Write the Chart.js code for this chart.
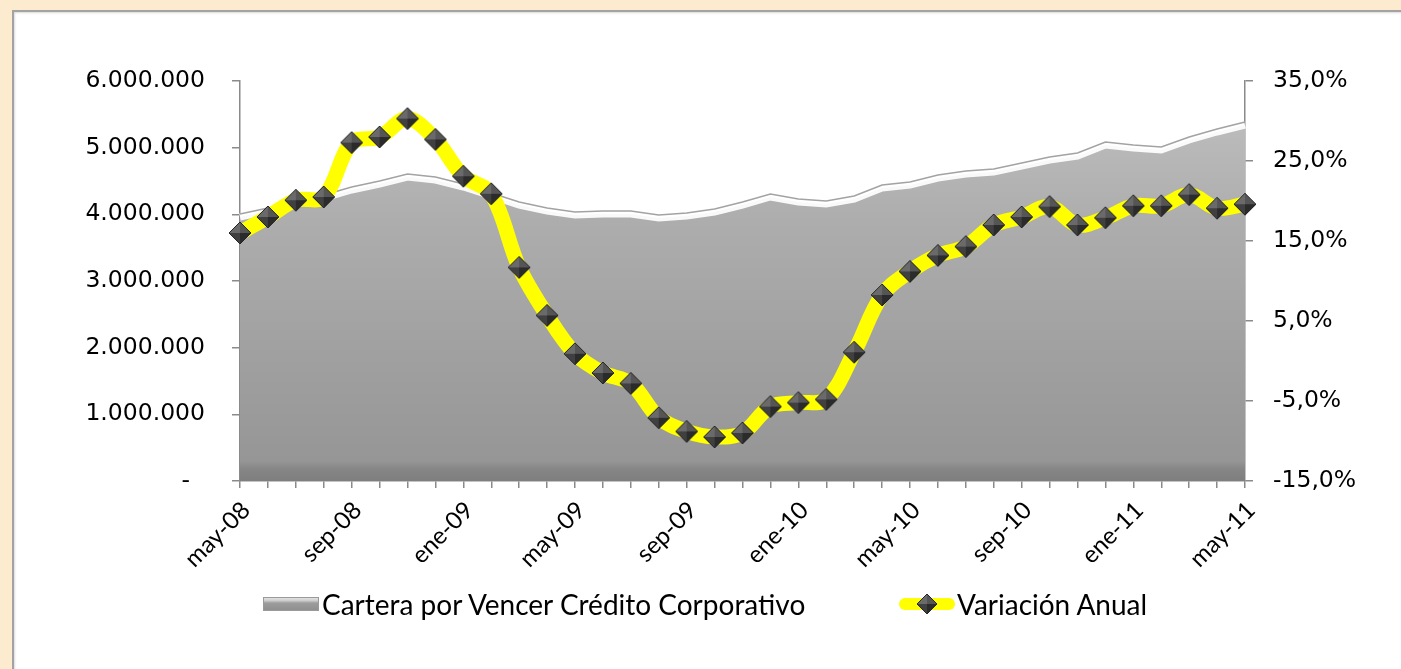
<!DOCTYPE html>
<html>
<head>
<meta charset="utf-8">
<script src="https://cdn.jsdelivr.net/npm/chart.js@4.4.1/dist/chart.umd.min.js"></script>
<style>
  html, body { margin: 0; padding: 0; background: #fdebd0; overflow: hidden; }
  #panel {
    position: absolute; left: 12px; top: 10px; width: 1420px; height: 700px;
    background: #ffffff; border: 2px solid #a3a3a3; box-shadow: inset 1px 1px 2px rgba(0,0,0,0.15);
  }
  #chart { position: absolute; left: 0; top: 0; }
  #legend { position: absolute; left: 0; top: 588px; width: 1401px; height: 32px; }
  #legend .item { position: absolute; top: 0; height: 32px; display: flex; align-items: center;
    font-family: Lato, sans-serif; font-size: 28px; color: #000; white-space: nowrap; }
  #legend .item canvas { margin-right: 2px; }
</style>
</head>
<body>
<div id="panel"></div>
<canvas id="chart" width="1401" height="669"></canvas>
<div id="legend"></div>
<script>
"use strict";

var categories = ['may-08','jun-08','jul-08','ago-08','sep-08','oct-08','nov-08','dic-08',
  'ene-09','feb-09','mar-09','abr-09','may-09','jun-09','jul-09','ago-09','sep-09','oct-09','nov-09','dic-09',
  'ene-10','feb-10','mar-10','abr-10','may-10','jun-10','jul-10','ago-10','sep-10','oct-10','nov-10','dic-10',
  'ene-11','feb-11','mar-11','abr-11','may-11'];

// Cartera por Vencer Crédito Corporativo
var cartera = [3960000, 4050000, 4155000, 4245000, 4365000, 4455000, 4560000, 4515000,
  4410000, 4275000, 4140000, 4050000, 3990000, 4005000, 4005000, 3945000, 3975000, 4035000, 4140000, 4260000,
  4185000, 4155000, 4230000, 4395000, 4440000, 4545000, 4605000, 4635000, 4725000, 4815000, 4875000, 5040000,
  4995000, 4965000, 5115000, 5235000, 5340000];

// Variación Anual (%)
var variacion = [16.0, 18.0, 20.1, 20.5, 27.3, 28.0, 30.3, 27.7,
  23.1, 20.9, 11.7, 5.7, 0.9, -1.5, -2.8, -7.1, -8.8, -9.5, -9.0, -5.7,
  -5.2, -4.8, 1.1, 8.25, 11.2, 13.2, 14.3, 17.0, 18.0, 19.3, 17.0, 17.9,
  19.4, 19.4, 20.8, 19.1, 19.6];

var seriesNames = ['Cartera por Vencer Crédito Corporativo', 'Variación Anual'];
var leftTicks = { min: 0, max: 6000000, step: 1000000 };
var rightTicks = { min: -15, max: 35, step: 10 };

function fmtMiles(v) {
  if (v === 0) return '-  ';
  return String(v).replace(/\B(?=(\d{3})+(?!\d))/g, '.');
}
function fmtPct(v) {
  return v.toFixed(1).replace('.', ',') + '%';
}

// pyramid shaded diamond marker
function diamond(r) {
  var s = Math.ceil(r * 2 + 4);
  var c = document.createElement('canvas');
  c.width = s; c.height = s;
  var g = c.getContext('2d');
  var m = s / 2;
  function tri(ax, ay, bx, by, col) {
    g.beginPath(); g.moveTo(m, m); g.lineTo(ax, ay); g.lineTo(bx, by); g.closePath();
    g.fillStyle = col; g.fill();
  }
  tri(m, m - r, m - r, m, '#6a6a6a');
  tri(m, m - r, m + r, m, '#555555');
  tri(m + r, m, m, m + r, '#2b2b2b');
  tri(m - r, m, m, m + r, '#404040');
  g.beginPath(); g.moveTo(m, m - r); g.lineTo(m + r, m); g.lineTo(m, m + r); g.lineTo(m - r, m); g.closePath();
  g.strokeStyle = '#262626'; g.lineWidth = 1; g.stroke();
  return c;
}

function legendArea() {
  var c = document.createElement('canvas');
  c.width = 58; c.height = 18;
  var g = c.getContext('2d');
  var gr = g.createLinearGradient(0, 0, 0, 18);
  gr.addColorStop(0, '#f4f4f4'); gr.addColorStop(0.3, '#d0d0d0'); gr.addColorStop(0.45, '#9c9c9c'); gr.addColorStop(1, '#8a8a8a');
  g.fillStyle = gr; g.fillRect(1, 2, 56, 14);
  g.strokeStyle = '#9a9a9a'; g.lineWidth = 1; g.strokeRect(1.5, 2.5, 55, 13);
  return c;
}

function legendLine() {
  var c = document.createElement('canvas');
  c.width = 56; c.height = 24;
  var g = c.getContext('2d');
  g.fillStyle = '#ffff00';
  g.beginPath(); g.moveTo(6, 6); g.lineTo(50, 6); g.arc(50, 12, 6, -Math.PI / 2, Math.PI / 2); g.lineTo(6, 18); g.arc(6, 12, 6, Math.PI / 2, Math.PI * 1.5); g.fill();
  g.drawImage(diamond(10), 28 - 12, 0);
  return c;
}

var marker = diamond(11);
var legendIcons = [legendArea(), legendLine()];
var legendLeft = [262, 899];

var areaOutline = {
  id: 'areaOutline',
  afterDatasetDraw: function (chart, args) {
    if (args.index !== 0) return;
    var pts = args.meta.data;
    var ctx = chart.ctx;
    ctx.save();
    ctx.beginPath();
    for (var i = 0; i < pts.length; i++) {
      if (i === 0) ctx.moveTo(pts[i].x, pts[i].y - 3);
      else ctx.lineTo(pts[i].x, pts[i].y - 3);
    }
    ctx.strokeStyle = '#a3a3a3';
    ctx.lineWidth = 1.6;
    ctx.stroke();
    ctx.restore();
  }
};

// legend as html, built from the datasets
var htmlLegend = {
  id: 'htmlLegend',
  afterUpdate: function (chart) {
    var box = document.getElementById('legend');
    box.innerHTML = '';
    chart.data.datasets.forEach(function (ds, i) {
      var item = document.createElement('div');
      item.className = 'item';
      item.style.left = legendLeft[i] + 'px';
      item.appendChild(legendIcons[i]);
      var t = document.createElement('span');
      t.textContent = ds.label;
      item.appendChild(t);
      box.appendChild(item);
    });
  }
};

var axisGray = '#8a8a8a';
var tickFont = { family: 'DejaVu Sans', size: 23.5 };

new Chart(document.getElementById('chart'), {
  type: 'line',
  data: {
    labels: categories,
    datasets: [{
      label: seriesNames[0],
      data: cartera,
      yAxisID: 'y',
      order: 2,
      fill: 'origin',
      tension: 0,
      pointRadius: 0,
      borderColor: 'rgba(255,255,255,0.92)',
      borderWidth: 7,
      backgroundColor: function (c) {
        var a = c.chart.chartArea;
        if (!a) return '#a8a8a8';
        var gr = c.chart.ctx.createLinearGradient(0, a.top, 0, a.bottom);
        gr.addColorStop(0, '#c2c2c2');
        gr.addColorStop(0.35, '#adadad');
        gr.addColorStop(0.95, '#969696');
        gr.addColorStop(0.97, '#868686');
        gr.addColorStop(1, '#7e7e7e');
        return gr;
      }
    }, {
      label: seriesNames[1],
      data: variacion,
      yAxisID: 'y1',
      order: 1,
      fill: false,
      tension: 0.35,
      borderColor: '#ffff00',
      borderWidth: 15,
      pointStyle: marker,
      pointRadius: 10,
      clip: false
    }]
  },
  options: {
    responsive: false,
    animation: false,
    layout: { padding: { left: 12, top: 81, right: 0, bottom: 88 } },
    scales: {
      x: {
        offset: false,
        grid: { display: true, drawOnChartArea: false, drawTicks: true, tickLength: 7, color: axisGray, lineWidth: 1.5 },
        border: { display: true, color: axisGray, width: 1.5 },
        ticks: {
          autoSkip: false, maxRotation: 45, minRotation: 45, padding: 8, labelOffset: 6,
          color: '#000', font: { family: 'Lato', size: 24 },
          callback: function (v, i) { return i % 4 === 0 ? categories[i] : ''; }
        },
        afterFit: function (s) { s.height = 100; }
      },
      y: {
        position: 'left',
        min: leftTicks.min, max: leftTicks.max,
        grid: { display: true, drawOnChartArea: false, drawTicks: true, tickLength: 8, color: axisGray, lineWidth: 1.5 },
        border: { display: true, color: axisGray, width: 1.5 },
        ticks: { stepSize: leftTicks.step, padding: 27, color: '#000', font: tickFont, callback: fmtMiles },
        afterFit: function (s) { s.width = 228; }
      },
      y1: {
        position: 'right',
        min: rightTicks.min, max: rightTicks.max,
        grid: { display: true, drawOnChartArea: false, drawTicks: true, tickLength: 8, color: axisGray, lineWidth: 1.5 },
        border: { display: true, color: axisGray, width: 1.5 },
        ticks: { stepSize: rightTicks.step, padding: 20, color: '#000', font: tickFont, callback: fmtPct },
        afterFit: function (s) { s.width = 156; }
      }
    },
    plugins: {
      tooltip: { enabled: false },
      legend: { display: false }
    }
  },
  plugins: [areaOutline, htmlLegend]
});
</script>
</body>
</html>
